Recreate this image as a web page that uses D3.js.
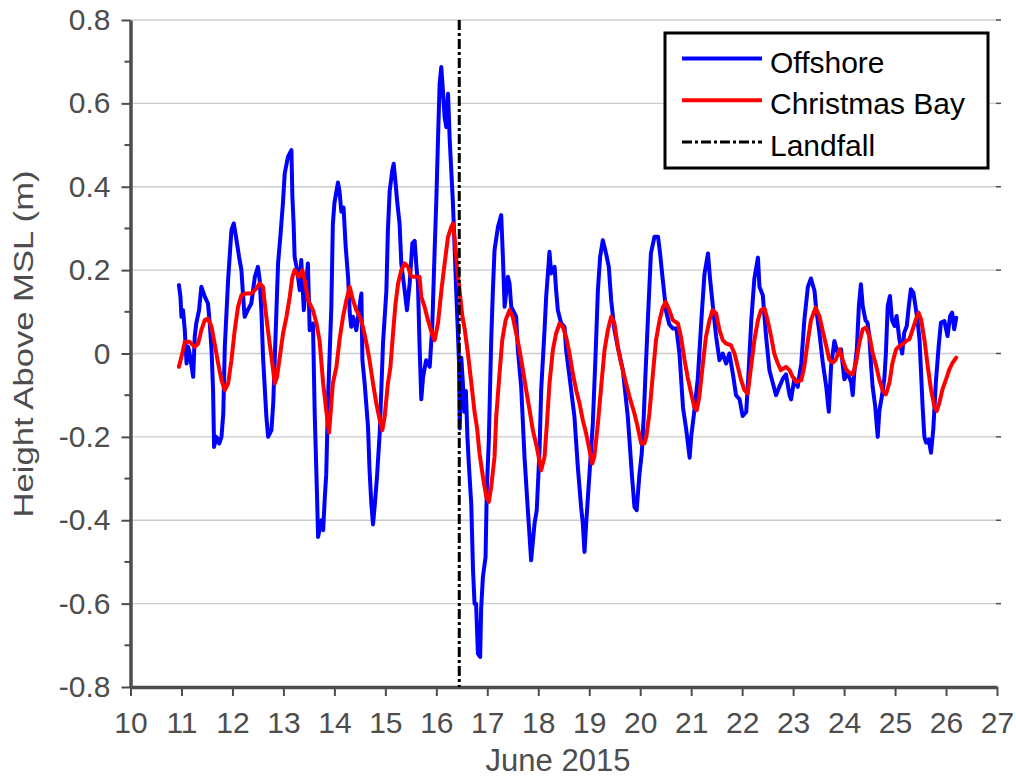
<!DOCTYPE html>
<html>
<head>
<meta charset="utf-8">
<script src="https://cdn.jsdelivr.net/npm/d3@7"></script>
<style>
  html, body { margin: 0; padding: 0; background: #ffffff; }
  svg { display: block; font-family: "Liberation Sans", Arial, Helvetica, sans-serif; }
</style>
</head>
<body>
<svg id="chart" width="1016" height="779"></svg>
<script>
// Water level above mean sea level, [day of June 2015, metres]
const offshoreReadings = [
  [10.95,0.164],[10.98,0.136],[11.0,0.088],[11.03,0.104],[11.065,0.056],[11.1,-0.024],[11.13,0.016],
  [11.16,0.0],[11.2,-0.032],[11.23,-0.056],[11.26,0.04],[11.29,0.072],[11.345,0.104],[11.39,0.16],
  [11.46,0.136],[11.52,0.12],[11.555,0.072],[11.59,0.008],[11.62,-0.088],[11.64,-0.224],[11.686,-0.2],
  [11.74,-0.216],[11.785,-0.2],[11.82,-0.144],[11.85,0.016],[11.915,0.176],[11.98,0.296],[12.026,0.312],
  [12.08,0.272],[12.13,0.232],[12.176,0.2],[12.21,0.136],[12.24,0.088],[12.3,0.104],[12.37,0.12],
  [12.44,0.184],[12.5,0.208],[12.535,0.176],[12.57,0.096],[12.6,-0.008],[12.666,-0.152],[12.7,-0.2],
  [12.765,-0.184],[12.8,-0.12],[12.85,0.056],[12.895,0.216],[12.94,0.28],[12.99,0.36],[13.026,0.432],
  [13.09,0.472],[13.157,0.488],[13.176,0.376],[13.2,0.312],[13.22,0.232],[13.27,0.2],[13.32,0.152],
  [13.35,0.224],[13.4,0.104],[13.48,0.216],[13.516,0.056],[13.58,0.072],[13.614,-0.144],[13.66,-0.344],
  [13.68,-0.44],[13.745,-0.4],[13.78,-0.424],[13.81,-0.35],[13.84,-0.29],[13.875,-0.11],[13.94,0.11],
  [13.97,0.31],[14.0,0.36],[14.07,0.41],[14.1,0.39],[14.137,0.34],[14.18,0.35],[14.22,0.26],
  [14.27,0.18],[14.3,0.10],[14.33,0.064],[14.365,0.088],[14.43,0.056],[14.5,0.12],[14.53,0.144],
  [14.55,-0.016],[14.594,-0.072],[14.66,-0.176],[14.69,-0.28],[14.725,-0.36],[14.758,-0.41],[14.79,-0.367],
  [14.836,-0.296],[14.89,-0.19],[14.954,0.024],[15.02,0.15],[15.05,0.296],[15.085,0.39],[15.137,0.44],
  [15.163,0.455],[15.2,0.41],[15.23,0.367],[15.28,0.31],[15.313,0.216],[15.38,0.15],[15.424,0.104],
  [15.477,0.168],[15.53,0.264],[15.575,0.27],[15.61,0.208],[15.64,0.168],[15.67,0.024],[15.705,-0.11],
  [15.74,-0.056],[15.8,-0.016],[15.87,-0.032],[15.92,0.064],[15.967,0.248],[16.0,0.367],[16.032,0.51],
  [16.065,0.647],[16.097,0.687],[16.13,0.63],[16.163,0.567],[16.196,0.543],[16.23,0.623],[16.26,0.52],
  [16.29,0.447],[16.326,0.36],[16.36,0.25],[16.39,0.15],[16.42,0.06],[16.445,-0.02],[16.46,-0.18],
  [16.49,-0.01],[16.52,-0.07],[16.55,-0.14],[16.58,-0.09],[16.61,-0.2],[16.64,-0.27],[16.685,-0.36],
  [16.72,-0.52],[16.75,-0.6],[16.78,-0.6],[16.816,-0.72],[16.86,-0.728],[16.88,-0.61],[16.914,-0.536],
  [16.966,-0.488],[16.99,-0.328],[17.03,-0.208],[17.077,0.032],[17.11,0.152],[17.142,0.248],[17.21,0.304],
  [17.273,0.332],[17.306,0.232],[17.34,0.112],[17.404,0.184],[17.436,0.168],[17.47,0.112],[17.52,0.1],
  [17.567,0.088],[17.6,0.008],[17.665,-0.08],[17.73,-0.248],[17.796,-0.376],[17.86,-0.496],[17.927,-0.408],
  [17.97,-0.376],[18.025,-0.232],[18.057,-0.088],[18.123,0.056],[18.155,0.136],[18.22,0.244],[18.253,0.192],
  [18.32,0.208],[18.35,0.152],[18.384,0.104],[18.45,0.072],[18.515,0.064],[18.547,0.008],[18.613,-0.056],
  [18.71,-0.152],[18.776,-0.272],[18.84,-0.368],[18.874,-0.408],[18.907,-0.476],[18.94,-0.408],[18.97,-0.352],
  [19.018,-0.264],[19.07,-0.168],[19.123,-0.008],[19.17,0.152],[19.214,0.232],[19.267,0.272],[19.33,0.24],
  [19.384,0.208],[19.43,0.128],[19.495,0.056],[19.56,0.016],[19.66,-0.04],[19.757,-0.152],[19.84,-0.296],
  [19.887,-0.368],[19.93,-0.376],[19.985,-0.29],[20.03,-0.24],[20.07,-0.15],[20.1,-0.06],[20.15,0.08],
  [20.21,0.24],[20.28,0.28],[20.35,0.28],[20.39,0.24],[20.44,0.18],[20.51,0.10],[20.57,0.07],
  [20.64,0.06],[20.71,0.06],[20.77,0.0],[20.84,-0.13],[20.9,-0.18],[20.97,-0.25],[21.0,-0.2],
  [21.06,-0.14],[21.13,-0.06],[21.2,0.08],[21.26,0.19],[21.33,0.24],[21.37,0.18],[21.42,0.12],
  [21.49,0.04],[21.555,-0.016],[21.62,0.0],[21.685,-0.024],[21.75,0.0],[21.82,-0.05],[21.88,-0.1],
  [21.95,-0.11],[22.01,-0.15],[22.08,-0.14],[22.11,-0.08],[22.18,0.08],[22.24,0.18],[22.31,0.23],
  [22.34,0.16],[22.405,0.14],[22.47,0.04],[22.535,-0.04],[22.6,-0.07],[22.665,-0.10],[22.73,-0.08],
  [22.8,-0.06],[22.86,-0.05],[22.93,-0.1],[22.96,-0.11],[23.025,-0.06],[23.09,-0.08],[23.16,-0.024],
  [23.22,0.08],[23.29,0.16],[23.35,0.18],[23.42,0.15],[23.45,0.11],[23.515,0.05],[23.58,-0.02],
  [23.65,-0.08],[23.7,-0.14],[23.745,-0.03],[23.81,0.03],[23.875,0.0],[23.94,0.01],[24.005,-0.062],
  [24.07,-0.046],[24.14,-0.07],[24.17,-0.1],[24.2,-0.046],[24.25,0.01],[24.29,0.114],[24.33,0.166],
  [24.365,0.114],[24.42,0.08],[24.46,0.074],[24.496,0.04],[24.53,-0.03],[24.56,-0.08],[24.61,-0.126],
  [24.66,-0.2],[24.69,-0.14],[24.745,-0.1],[24.79,-0.06],[24.82,0.0],[24.856,0.114],[24.9,0.138],
  [24.94,0.08],[24.99,0.066],[25.03,0.09],[25.085,0.034],[25.14,0.0],[25.18,0.05],[25.23,0.066],
  [25.27,0.114],[25.31,0.154],[25.36,0.146],[25.4,0.114],[25.44,0.08],[25.48,0.034],[25.51,-0.046],
  [25.54,-0.126],[25.575,-0.2],[25.61,-0.214],[25.66,-0.206],[25.705,-0.238],[25.75,-0.182],[25.8,-0.07],
  [25.856,0.018],[25.9,0.074],[25.967,0.078],[26.03,0.042],[26.08,0.09],[26.12,0.098],[26.16,0.058],
  [26.2,0.086]
];

const christmasBayReadings = [
  [10.95,-0.032],[11.0,-0.008],[11.065,0.028],[11.16,0.028],[11.26,0.016],[11.327,0.024],[11.39,0.056],
  [11.457,0.08],[11.52,0.084],[11.59,0.064],[11.65,0.024],[11.72,-0.024],[11.785,-0.064],[11.85,-0.088],
  [11.915,-0.072],[11.98,-0.016],[12.045,0.056],[12.11,0.112],[12.176,0.14],[12.274,0.144],[12.37,0.144],
  [12.47,0.156],[12.536,0.168],[12.6,0.16],[12.634,0.12],[12.68,0.072],[12.73,0.024],[12.765,-0.008],
  [12.83,-0.072],[12.875,-0.056],[12.93,-0.008],[12.993,0.048],[13.06,0.088],[13.124,0.136],[13.176,0.184],
  [13.22,0.2],[13.307,0.184],[13.372,0.2],[13.418,0.176],[13.484,0.128],[13.58,0.104],[13.65,0.072],
  [13.71,0.03],[13.78,-0.072],[13.84,-0.136],[13.895,-0.19],[13.92,-0.152],[13.97,-0.072],[14.04,-0.032],
  [14.1,0.032],[14.17,0.088],[14.235,0.128],[14.3,0.16],[14.365,0.128],[14.43,0.104],[14.5,0.088],
  [14.56,0.064],[14.63,0.024],[14.69,-0.016],[14.758,-0.072],[14.823,-0.12],[14.89,-0.16],[14.94,-0.184],
  [14.986,-0.152],[15.05,-0.072],[15.1,-0.032],[15.15,0.048],[15.2,0.12],[15.25,0.168],[15.313,0.2],
  [15.38,0.216],[15.444,0.208],[15.51,0.184],[15.61,0.184],[15.67,0.184],[15.705,0.136],[15.77,0.112],
  [15.836,0.08],[15.934,0.04],[15.967,0.032],[16.032,0.072],[16.1,0.152],[16.163,0.216],[16.23,0.28],
  [16.294,0.304],[16.326,0.312],[16.36,0.275],[16.405,0.21],[16.456,0.152],[16.51,0.09],[16.555,0.06],
  [16.62,0.0],[16.686,-0.07],[16.75,-0.14],[16.8,-0.18],[16.848,-0.24],[16.914,-0.296],[16.98,-0.344],
  [17.03,-0.356],[17.077,-0.32],[17.142,-0.248],[17.175,-0.152],[17.24,-0.048],[17.293,0.032],[17.36,0.08],
  [17.436,0.104],[17.5,0.088],[17.567,0.048],[17.633,0.008],[17.7,-0.04],[17.763,-0.088],[17.83,-0.136],
  [17.894,-0.184],[17.97,-0.224],[18.057,-0.28],[18.123,-0.248],[18.17,-0.168],[18.22,-0.072],[18.286,0.008],
  [18.35,0.048],[18.417,0.072],[18.48,0.064],[18.547,0.04],[18.613,0.0],[18.678,-0.048],[18.744,-0.088],
  [18.81,-0.12],[18.874,-0.16],[18.94,-0.192],[19.005,-0.232],[19.057,-0.264],[19.1,-0.248],[19.17,-0.168],
  [19.234,-0.08],[19.3,0.008],[19.365,0.056],[19.43,0.088],[19.495,0.072],[19.56,0.016],[19.626,-0.024],
  [19.69,-0.056],[19.79,-0.104],[19.887,-0.144],[19.95,-0.176],[20.02,-0.216],[20.08,-0.216],[20.12,-0.2],
  [20.18,-0.144],[20.25,-0.048],[20.31,0.032],[20.38,0.08],[20.44,0.11],[20.5,0.124],[20.57,0.104],
  [20.64,0.08],[20.74,0.072],[20.8,0.04],[20.87,-0.016],[20.93,-0.056],[21.0,-0.096],[21.06,-0.128],
  [21.11,-0.136],[21.16,-0.104],[21.23,-0.024],[21.29,0.04],[21.36,0.08],[21.42,0.104],[21.49,0.096],
  [21.555,0.056],[21.62,0.032],[21.685,0.024],[21.78,0.02],[21.85,0.0],[21.915,-0.032],[21.98,-0.064],
  [22.045,-0.088],[22.11,-0.096],[22.175,-0.032],[22.24,0.032],[22.31,0.08],[22.37,0.104],[22.44,0.108],
  [22.5,0.08],[22.57,0.04],[22.63,0.0],[22.7,-0.024],[22.76,-0.04],[22.86,-0.032],[22.93,-0.04],
  [22.99,-0.056],[23.06,-0.068],[23.16,-0.064],[23.22,-0.032],[23.29,0.032],[23.35,0.08],[23.44,0.11],
  [23.515,0.09],[23.58,0.055],[23.65,0.018],[23.71,-0.015],[23.78,-0.022],[23.84,-0.014],[23.91,0.01],
  [23.97,-0.014],[24.04,-0.038],[24.1,-0.046],[24.17,-0.05],[24.235,-0.022],[24.3,0.026],[24.366,0.058],
  [24.43,0.062],[24.496,0.042],[24.56,0.002],[24.63,-0.03],[24.69,-0.062],[24.76,-0.09],[24.82,-0.098],
  [24.89,-0.07],[24.95,-0.022],[25.02,0.01],[25.085,0.018],[25.15,0.022],[25.215,0.03],[25.28,0.034],
  [25.346,0.058],[25.41,0.082],[25.46,0.098],[25.51,0.082],[25.575,0.034],[25.64,-0.03],[25.705,-0.086],
  [25.77,-0.126],[25.82,-0.138],[25.87,-0.118],[25.93,-0.086],[26.0,-0.062],[26.065,-0.038],[26.13,-0.022],
  [26.2,-0.01]
];

// Tropical Storm Bill landfall (day of June 2015)
const landfallDay = 16.45;

const xTicks = [10,11,12,13,14,15,16,17,18,19,20,21,22,23,24,25,26,27];
const yTicks = [-0.8,-0.6,-0.4,-0.2,0,0.2,0.4,0.6,0.8];
const yTickLabels = ["-0.8","-0.6","-0.4","-0.2","0","0.2","0.4","0.6","0.8"];
const yMinorTicks = [-0.7,-0.5,-0.3,-0.1,0.1,0.3,0.5,0.7];
const legendLabels = ["Offshore","Christmas Bay","Landfall"];
const xLabel = "June 2015";
const yLabel = "Height Above MSL (m)";

const axisColor = "#4d4d4d";
const svg = d3.select("#chart");

const x = d3.scaleLinear().domain([10, 27]).range([130.5, 997]);
const y = d3.scaleLinear().domain([-0.8, 0.8]).range([687, 20]);

// horizontal grid
svg.append("g").selectAll("line")
  .data(yTicks.filter(v => v > -0.8))
  .join("line")
  .attr("x1", x(10)).attr("x2", x(27))
  .attr("y1", d => y(d)).attr("y2", d => y(d))
  .attr("stroke", "#cccccc").attr("stroke-width", 1.3);

// short marks at the right end of each grid line
svg.append("g").selectAll("line")
  .data(yTicks.filter(v => v > -0.8))
  .join("line")
  .attr("x1", x(27) - 1).attr("x2", x(27) + 4)
  .attr("y1", d => y(d)).attr("y2", d => y(d))
  .attr("stroke", axisColor).attr("stroke-width", 1.5);

// minor ticks on the left axis
svg.append("g").selectAll("line")
  .data(yMinorTicks)
  .join("line")
  .attr("x1", x(10) - 6).attr("x2", x(10))
  .attr("y1", d => y(d)).attr("y2", d => y(d))
  .attr("stroke", axisColor).attr("stroke-width", 2);

// left axis
const yAxis = svg.append("g")
  .attr("transform", `translate(${x(10)},0)`)
  .call(d3.axisLeft(y).tickValues(yTicks)
    .tickFormat((d, i) => yTickLabels[i])
    .tickSize(9).tickSizeOuter(0).tickPadding(11));
yAxis.select(".domain").attr("stroke", axisColor).attr("stroke-width", 3.5);
yAxis.selectAll(".tick line").attr("stroke", axisColor).attr("stroke-width", 2);
yAxis.selectAll(".tick text")
  .attr("fill", axisColor).attr("font-size", 30)
  .attr("font-family", "Liberation Sans, Arial, sans-serif");

// bottom axis
const xAxis = svg.append("g")
  .attr("transform", `translate(0,${y(-0.8)})`)
  .call(d3.axisBottom(x).tickValues(xTicks)
    .tickFormat(d3.format("d"))
    .tickSize(9).tickSizeOuter(0).tickPadding(16));
xAxis.select(".domain").attr("stroke", axisColor).attr("stroke-width", 3.5);
xAxis.selectAll(".tick line").attr("stroke", axisColor).attr("stroke-width", 2);
xAxis.selectAll(".tick text")
  .attr("fill", axisColor).attr("font-size", 30)
  .attr("font-family", "Liberation Sans, Arial, sans-serif");

// axis titles
svg.append("text")
  .attr("x", 558).attr("y", 771)
  .attr("text-anchor", "middle")
  .attr("font-size", 31).attr("fill", axisColor)
  .text(xLabel);

svg.append("text")
  .attr("transform", "translate(33,344) rotate(-90)")
  .attr("text-anchor", "middle")
  .attr("font-size", 27).attr("fill", axisColor)
  .attr("textLength", 347).attr("lengthAdjust", "spacingAndGlyphs")
  .text(yLabel);

// series
const line = d3.line().x(d => x(d[0])).y(d => y(d[1]));

svg.append("path")
  .datum(offshoreReadings)
  .attr("d", line)
  .attr("fill", "none").attr("stroke", "#0000ff")
  .attr("stroke-width", 4).attr("stroke-linejoin", "round").attr("stroke-linecap", "round");

svg.append("path")
  .datum(christmasBayReadings)
  .attr("d", line)
  .attr("fill", "none").attr("stroke", "#ff0000")
  .attr("stroke-width", 4).attr("stroke-linejoin", "round").attr("stroke-linecap", "round");

// landfall marker
const dashDot = "10,3,3,3";
svg.append("line")
  .attr("x1", x(landfallDay)).attr("x2", x(landfallDay))
  .attr("y1", y(0.8)).attr("y2", y(-0.8))
  .attr("stroke", "#000000").attr("stroke-width", 3)
  .attr("stroke-dasharray", dashDot);

// legend
const legend = svg.append("g");
legend.append("rect")
  .attr("x", 665).attr("y", 33).attr("width", 323).attr("height", 135)
  .attr("fill", "#ffffff").attr("stroke", "#000000").attr("stroke-width", 3);

const legendStyles = [
  { color: "#0000ff", dash: null },
  { color: "#ff0000", dash: null },
  { color: "#000000", dash: dashDot }
];
legendLabels.forEach((label, i) => {
  const cy = 58.5 + i * 41.7;
  legend.append("line")
    .attr("x1", 682).attr("x2", 762)
    .attr("y1", cy).attr("y2", cy)
    .attr("stroke", legendStyles[i].color)
    .attr("stroke-width", legendStyles[i].dash ? 3 : 4)
    .attr("stroke-dasharray", legendStyles[i].dash);
  legend.append("text")
    .attr("x", 770).attr("y", cy + 14.2)
    .attr("font-size", 30).attr("fill", "#000000")
    .text(label);
});
</script>
</body>
</html>
